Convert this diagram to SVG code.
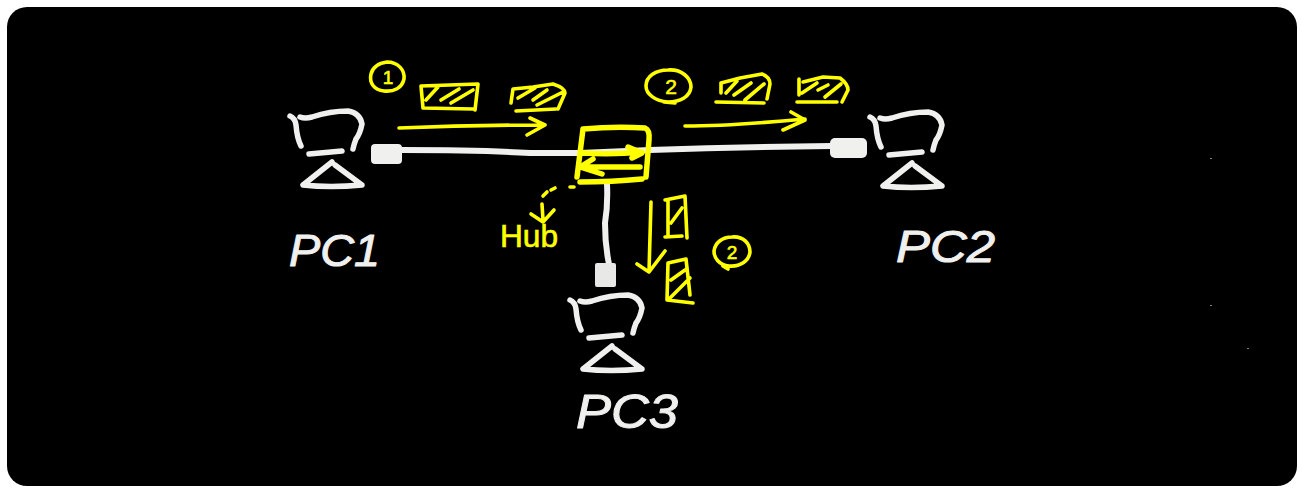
<svg xmlns="http://www.w3.org/2000/svg" width="1302" height="492" viewBox="0 0 1302 492">
<style>
.w{fill:none;stroke:#f0f0ee;stroke-linecap:round;stroke-linejoin:round}
.y{fill:none;stroke:#ffff00;stroke-linecap:round;stroke-linejoin:round;stroke-width:3.6}
.yb{stroke-width:5.5}
.lw{font-family:"Liberation Sans",Arial,sans-serif;font-style:italic;fill:#f0f0ee;stroke:#f0f0ee;stroke-width:1;stroke-linejoin:round}
.ly{font-family:"Liberation Sans",Arial,sans-serif;fill:#ffff00;stroke:#ffff00;stroke-width:.6;text-anchor:middle}
</style>
<defs>
<g id="pc" class="w" stroke-width="5.5">
<path d="M290 116Q295 118 296 125Q297 138 301 146"/>
<path d="M300 117Q305 119 312 117Q330 111 348 111Q360 113 362 124Q360 134 356 139Q354 144 353 149"/>
<path d="M309 154L342 151"/>
<path d="M332 162L303 185Q330 188 362 185L335 165"/>
</g>
</defs>
<rect width="1302" height="492" fill="#fff"/>
<rect x="7" y="7" width="1290" height="479" rx="20" fill="#000"/>
<g id="connectors">
<g class="w">
<path d="M402 150Q480 150 530 153L580 153L650 150Q740 147 832 146" stroke-width="6"/>
<path d="M607 184Q608 205 605 223Q605 245 609 264" stroke-width="6"/>
</g>
<path class="y" d="M399 128Q470 125 545 125M530 118L545 125L527 135"/>
<path class="y" d="M685 126Q730 126 805 119M791 112L805 120L783 130"/>
<path class="y" d="M651 202L649 272M637 264L649 272L665 251"/>
<path class="y" d="M543 196L547 192M551 190L555 188M542 204L543 220M531 214L543 222L554 210"/>
<path class="y" d="M570 187L574 187"/>
</g>
<g id="pc1">
<use href="#pc"/>
<rect x="371" y="144" width="31" height="20" rx="4" fill="#f0f0ee"/>
<text class="lw" x="289" y="266" font-size="44" textLength="91" lengthAdjust="spacingAndGlyphs">PC1</text>
</g>
<g id="pc2">
<use href="#pc" transform="translate(580 1)"/>
<rect x="830" y="138" width="37" height="20" rx="5" fill="#f0f0ee"/>
<text class="lw" x="896" y="262" font-size="44" textLength="99" lengthAdjust="spacingAndGlyphs">PC2</text>
</g>
<g id="pc3">
<use href="#pc" transform="translate(280 184)"/>
<rect x="595" y="263" width="21" height="24" rx="2" fill="#e8e8e6"/>
<text class="lw" x="576" y="428" font-size="48" textLength="102" lengthAdjust="spacingAndGlyphs">PC3</text>
</g>
<g id="hub">
<path class="y yb" d="M583 129Q615 126 645 128Q650 130 649 140L646 177M583 129L577 177M580 182Q612 182 642 179"/>
<path class="y yb" d="M583 153Q612 155 642 152M628 147L642 153L632 158M640 167L582 167M593 159L580 167L602 174"/>
<text class="ly" x="529" y="247" font-size="31" textLength="58" lengthAdjust="spacingAndGlyphs">Hub</text>
</g>
<g id="step1">
<path class="y" d="M387 62C398 62 405 70 404 79C402 88 394 92 384 91C374 90 369 83 371 74C373 66 380 63 387 62Z"/>
<text class="ly" x="388" y="84" font-size="19">1</text>
</g>
<g id="packet1">
<path class="y" d="M421 86L478 84L475 110M421 86L423 108L473 109M426 100L438 87M441 100L459 89M451 103L473 90"/>
</g>
<g id="packet2">
<path class="y" d="M511 103L513 89L533 87L553 84Q565 88 565 93L558 109M516 111L556 109M518 98L535 88M533 100L547 90M537 105L563 92"/>
</g>
<g id="step2a">
<path class="y" d="M668 70C682 69 691 78 691 87C690 97 680 102 668 102C655 101 646 94 646 86C646 76 656 70 668 70ZM664 102L675 103"/>
<text class="ly" x="671" y="94" font-size="21">2</text>
</g>
<g id="packet3">
<path class="y" d="M721 83L721 93M721 83L740 78L762 74Q770 77 770 84L767 99M716 102L764 103M726 93L737 81M734 95L751 83M745 100L764 84"/>
</g>
<g id="packet4">
<path class="y" d="M799 79L799 95M803 82L823 77L840 78Q848 84 848 90L842 102M797 102L837 102M802 93L817 83M818 90L828 85M825 97L841 84"/>
</g>
<g id="packet5">
<path class="y" d="M665 200L685 196L687 238M668 200L668 235M665 237L682 236M671 223L682 208"/>
</g>
<g id="packet6">
<path class="y" d="M668 263L686 259L690 295M668 263L667 300L693 303M671 280L685 270M670 298L690 278"/>
</g>
<g id="step2b">
<path class="y" d="M732 237C744 236 750 244 750 252C749 261 740 267 729 266C719 265 714 258 714 251C715 243 722 237 732 237ZM723 266L728 269"/>
<text class="ly" x="732" y="259" font-size="19">2</text>
</g>
<g id="specks" fill="#888">
<rect x="1210" y="158" width="2" height="1"/>
<rect x="1210" y="305" width="2" height="1"/>
<rect x="1247" y="348" width="2" height="1"/>
</g>
</svg>
